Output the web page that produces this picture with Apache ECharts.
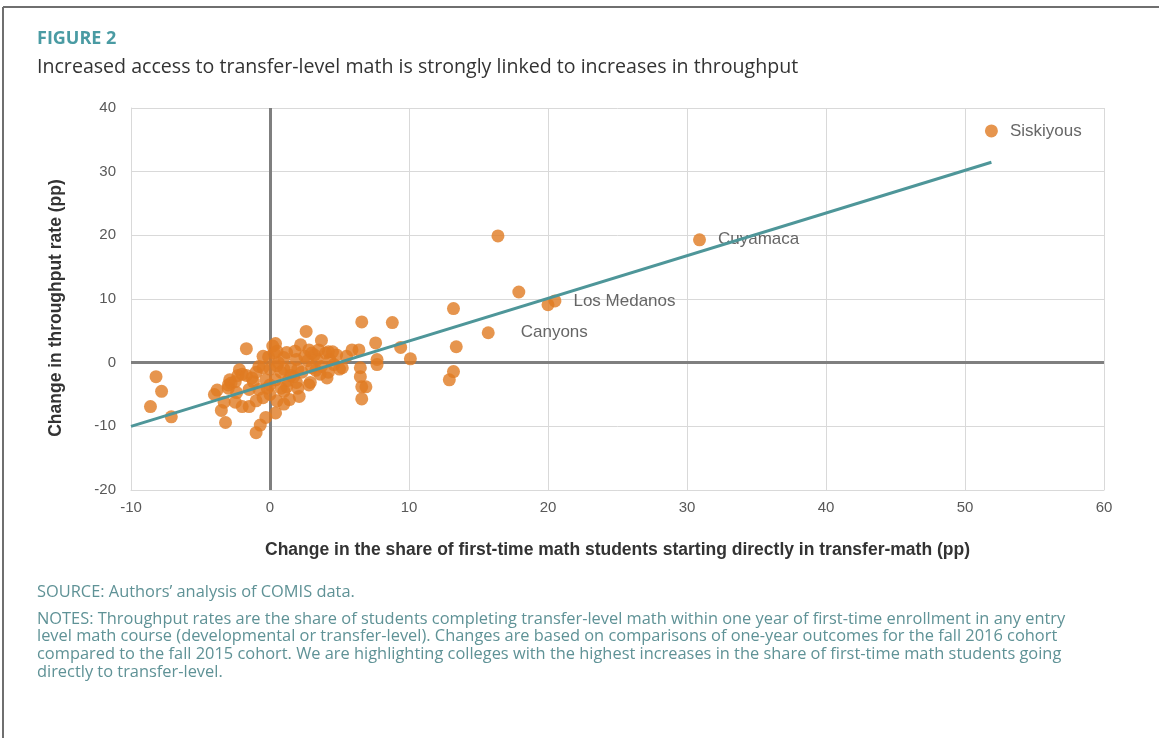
<!DOCTYPE html>
<html>
<head>
<meta charset="utf-8">
<script src="https://cdn.jsdelivr.net/npm/echarts@6/dist/echarts.min.js"></script>
<style>
  html, body { margin: 0; padding: 0; background: #fff; }
  #chart { width: 1159px; height: 738px; }
</style>
</head>
<body>
<div id="chart"></div>
<script>
// change in share of first-time math students starting in transfer-math (pp)
const shareChange = [
  -8.2, -7.8, -8.6, -7.1, -4.0, -3.8, -3.5, -3.3, -3.2, -3.0, -3.0, -2.9, -2.8, -2.5, -2.5,
  -2.4, -2.3, -2.2, -2.0, -2.0, -1.7, -1.7, -1.5, -1.5, -1.3, -1.2, -1.0, -1.0, -1.0, -0.8,
  -0.8, -0.7, -0.5, -0.5, -0.5, -0.3, -0.3, -0.2, -0.1, 0.0, 0.0, 0.0, 0.2, 0.3, 0.4,
  0.4, 0.4, 0.5, 0.5, 0.5, 0.6, 0.8, 0.8, 1.0, 1.0, 1.0, 1.0, 1.2, 1.2, 1.3,
  1.4, 1.5, 1.5, 1.7, 1.8, 1.9, 1.9, 2.0, 2.0, 2.1, 2.2, 2.3, 2.5, 2.6, 2.7,
  2.8, 2.8, 2.9, 3.0, 3.0, 3.2, 3.3, 3.4, 3.5, 3.6, 3.7, 3.7, 4.0, 4.1, 4.2,
  4.2, 4.3, 4.5, 4.6, 4.8, 5.0, 5.2, 5.5, 5.9, 6.4, 6.5, 6.5, 6.6, 6.6, 6.6,
  6.9, 7.6, 7.7, 7.7, 8.8, 9.4, 10.1, 12.9, 13.2, 13.4, 13.2, 16.4, 17.9, 20.0
];
// change in throughput rate (pp)
const throughputChange = [
  -2.2, -4.5, -6.9, -8.5, -5.0, -4.3, -7.5, -6.2, -9.4, -4.0, -3.5, -2.7, -3.2, -3.0, -6.2,
  -4.7, -2.0, -1.1, -6.9, -1.8, -2.0, 2.2, -6.9, -4.2, -2.4, -3.0, -11.0, -1.5, -6.0, -4.2,
  -0.6, -9.8, -0.8, -5.5, 1.0, -8.6, -2.7, -4.0, 0.9, -3.5, -1.0, -5.0, 2.6, 1.5, 3.0,
  -2.7, -7.9, -0.5, 1.8, -6.0, 0.0, -1.5, -4.0, -4.5, -1.0, 0.8, -6.5, 1.6, -3.8, -2.8,
  -5.8, -0.8, -2.0, -2.2, 1.8, 0.5, -3.1, -1.0, -4.0, -5.3, 2.8, -1.5, 1.0, 4.9, 0.3,
  2.0, -3.5, -3.1, -0.8, 1.5, 1.2, -1.2, 0.5, 2.0, -1.8, 3.5, -0.6, 1.5, -2.4, 1.7,
  -1.5, 0.5, 1.7, -0.3, 1.2, -1.0, -0.8, 1.0, 2.0, 2.0, -0.8, -2.2, 6.4, -3.8, -5.7,
  -3.8, 3.1, 0.5, -0.3, 6.3, 2.4, 0.6, -2.7, -1.4, 2.5, 8.5, 19.9, 11.1, 9.1
];
// highlighted colleges
const collegeNames = ['Siskiyous', 'Cuyamaca', 'Los Medanos', 'Canyons'];
const collegeShare = [51.9, 30.9, 20.5, 15.7];
const collegeThroughput = [36.4, 19.3, 9.7, 4.7];
// fitted trend line
const trendRange = [-10, 51.9];
const trendSlope = 0.67;
const trendIntercept = -3.3;
// axis ticks
const xTicks = [-10, 60, 10];
const yTicks = [-20, 40, 10];

const notesLines = [
  'NOTES: Throughput rates are the share of students completing transfer-level math within one year of first-time enrollment in any entry',
  'level math course (developmental or transfer-level). Changes are based on comparisons of one-year outcomes for the fall 2016 cohort',
  'compared to the fall 2015 cohort. We are highlighting colleges with the highest increases in the share of first-time math students going',
  'directly to transfer-level.'
];

const chart = echarts.init(document.getElementById('chart'));

const orange = '#e07b22';
const teal = '#4e9699';
const axisFont = '"Liberation Sans", Arial, sans-serif';
const textFont = '"Open Sans", Lato, sans-serif';

const points = shareChange.map((x, i) => [x, throughputChange[i]]);
const highlighted = collegeNames.map((name, i) => ({
  name: name,
  value: [collegeShare[i], collegeThroughput[i]],
  label: {
    show: true,
    position: 'right',
    distance: name === 'Canyons' ? 26 : 12,
    formatter: '{b}',
    color: '#404040',
    fontFamily: axisFont,
    fontSize: 17
  }
}));
const trendData = trendRange.map(x => [x, trendSlope * x + trendIntercept]);

const notesGraphics = notesLines.map((line, i) => ({
  type: 'text',
  left: 37,
  top: 611 + i * 17.7,
  style: { text: line, fill: '#5f9296', font: '16.4px ' + textFont }
}));

const option = {
  animation: false,
  backgroundColor: '#fff',
  grid: { left: 131, right: 55, top: 108, bottom: 248 },
  xAxis: {
    type: 'value',
    min: xTicks[0],
    max: xTicks[1],
    interval: xTicks[2],
    name: 'Change in the share of first-time math students starting directly in transfer-math (pp)',
    nameLocation: 'middle',
    nameGap: 51,
    nameTextStyle: { fontFamily: axisFont, fontWeight: 'bold', fontSize: 17.5, color: '#333' },
    axisLine: { onZero: false, lineStyle: { color: '#d9d9d9' } },
    axisTick: { show: false },
    axisLabel: { margin: 10, color: '#595959', fontFamily: axisFont, fontSize: 15 },
    splitLine: { lineStyle: { color: '#d9d9d9' } }
  },
  yAxis: {
    type: 'value',
    min: yTicks[0],
    max: yTicks[1],
    interval: yTicks[2],
    name: 'Change in throughput rate (pp)',
    nameLocation: 'middle',
    nameGap: 66,
    nameTextStyle: {
      fontFamily: axisFont, fontWeight: 'bold', fontSize: 17.5, color: '#333',
      padding: [0, 18, 0, 0]
    },
    axisLine: { show: true, onZero: false, lineStyle: { color: '#d9d9d9' } },
    axisTick: { show: false },
    axisLabel: { margin: 15, color: '#595959', fontFamily: axisFont, fontSize: 15 },
    splitLine: { lineStyle: { color: '#d9d9d9' } }
  },
  series: [
    {
      type: 'scatter',
      z: 2,
      symbolSize: 13,
      itemStyle: { color: orange },
      data: points.concat(highlighted),
      markLine: {
        silent: true,
        z: 1,
        symbol: 'none',
        label: { show: false },
        lineStyle: { color: '#7f7f7f', width: 3, type: 'solid' },
        data: [{ xAxis: 0 }, { yAxis: 0 }]
      }
    },
    {
      type: 'line',
      z: 3,
      data: trendData,
      symbol: 'none',
      lineStyle: { color: teal, width: 3 }
    }
  ],
  graphic: [
    {
      type: 'line',
      shape: { x1: 3, y1: 7, x2: 1159, y2: 7 },
      style: { stroke: '#6f6f6f', lineWidth: 2 }
    },
    {
      type: 'line',
      shape: { x1: 3, y1: 7, x2: 3, y2: 738 },
      style: { stroke: '#6f6f6f', lineWidth: 2 }
    },
    {
      type: 'text',
      left: 37,
      top: 30,
      style: { text: 'FIGURE 2', fill: '#4a9ba3', font: 'bold 18px ' + textFont }
    },
    {
      type: 'text',
      left: 37,
      top: 57,
      style: {
        text: 'Increased access to transfer-level math is strongly linked to increases in throughput',
        fill: '#333',
        font: '19.6px ' + textFont
      }
    },
    {
      type: 'text',
      left: 37,
      top: 584,
      style: { text: 'SOURCE: Authors\u2019 analysis of COMIS data.', fill: '#5f9296', font: '16.4px ' + textFont }
    }
  ].concat(notesGraphics)
};

chart.setOption(option);
</script>
</body>
</html>
